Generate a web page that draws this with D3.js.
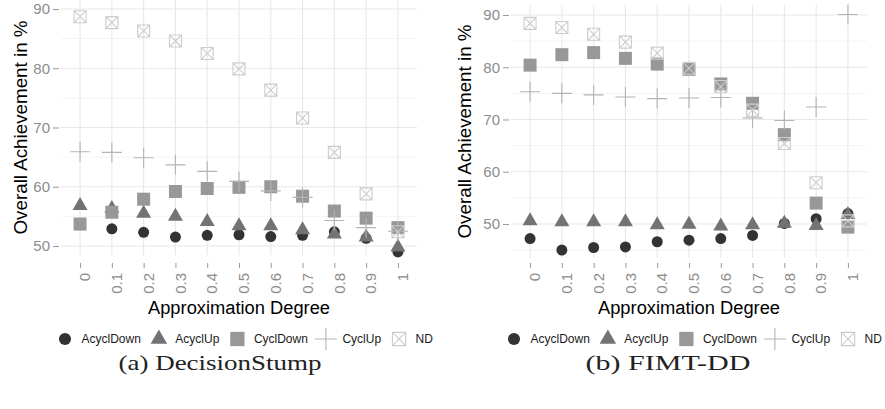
<!doctype html>
<html>
  <head>
    <script src="https://cdnjs.cloudflare.com/ajax/libs/d3/7.8.5/d3.min.js"></script>
  <style>
    body { margin: 0; background: #fff; }
    text { font-family: "Liberation Sans", Arial, sans-serif; }
    .domain { display: none; }
  </style>
  </head>
  <body>
    <svg id="chart" width="885" height="409"></svg>
    <script>
      // approximation degrees on the x axis
      const degrees = ["0", "0.1", "0.2", "0.3", "0.4", "0.5", "0.6", "0.7", "0.8", "0.9", "1"];
      const seriesNames = ["AcyclDown", "AcyclUp", "CyclDown", "CyclUp", "ND"];
      const yTicks = [50, 60, 70, 80, 90];

      // (a) DecisionStump
      const stumpAcyclDown = [53.6, 52.9, 52.3, 51.5, 51.8, 51.9, 51.6, 51.8, 52.4, 51.3, 49.0];
      const stumpAcyclUp   = [56.8, 56.3, 55.5, 55.0, 54.1, 53.4, 53.4, 52.7, 52.0, 51.5, 49.8];
      const stumpCyclDown  = [53.7, 55.7, 57.9, 59.2, 59.7, 59.9, 60.0, 58.4, 55.9, 54.7, 53.1];
      const stumpCyclUp    = [65.9, 65.8, 64.9, 63.7, 62.6, 60.9, 59.3, 58.2, 54.3, 53.1, 52.5];
      const stumpND        = [88.7, 87.7, 86.3, 84.6, 82.5, 79.9, 76.3, 71.6, 65.8, 58.8, 52.4];

      // (b) FIMT-DD
      const fimtAcyclDown = [47.2, 45.0, 45.5, 45.6, 46.6, 46.9, 47.2, 47.8, 50.1, 51.0, 52.0];
      const fimtAcyclUp   = [50.6, 50.4, 50.4, 50.4, 49.8, 49.9, 49.6, 49.8, 50.1, 49.7, 51.8];
      const fimtCyclDown  = [80.4, 82.4, 82.8, 81.7, 80.6, 79.6, 76.8, 73.1, 67.1, 54.0, 49.4];
      const fimtCyclUp    = [75.3, 75.0, 74.7, 74.3, 74.0, 74.1, 74.2, 70.3, 69.8, 72.4, 90.1];
      const fimtND        = [88.4, 87.6, 86.3, 84.8, 82.7, 79.8, 76.3, 71.8, 65.4, 57.9, 50.6];

      const colors = ["#333333", "#737373", "#989898", "#b4b4b4", "#cccccc"];

      // shape paths, centred on 0,0
      function shapePath(i, s) {
        if (i == 0) return d3.symbol(d3.symbolCircle, Math.PI * 5.5 * 5.5 * s * s)();
        if (i == 1) {
          const w = 7.5 * s, h = 13 * s;
          return `M0,${-h * 2 / 3}L${w},${h / 3}L${-w},${h / 3}Z`;
        }
        if (i == 2) return d3.symbol(d3.symbolSquare, 13 * 13 * s * s)();
        if (i == 3) {
          const a = 10 * s;
          return `M${-a},0H${a}M0,${-a}V${a}`;
        }
        const b = 6 * s;
        return `M${-b},${-b}H${b}V${b}H${-b}ZM${-b},${-b}L${b},${b}M${b},${-b}L${-b},${b}`;
      }

      function styleShape(sel, i) {
        if (i < 3) sel.attr("fill", colors[i]).attr("stroke", "none");
        else sel.attr("fill", "none").attr("stroke", colors[i]).attr("stroke-width", 1.1);
      }

      const panels = [
        { caption: "(a) DecisionStump", x0: 61, x1: 417, top: 0, bottom: 255, ydom: [48.48, 91.52],
          minor: [55, 65, 75, 85], series: [stumpAcyclDown, stumpAcyclUp, stumpCyclDown, stumpCyclUp, stumpND],
          yTitleX: 21, legendX: 65, captionX: 220 },
        { caption: "(b) FIMT-DD", x0: 511, x1: 867, top: 5, bottom: 258, ydom: [43.49, 91.91],
          minor: [45, 55, 65, 75, 85], series: [fimtAcyclDown, fimtAcyclUp, fimtCyclDown, fimtCyclUp, fimtND],
          yTitleX: 465, legendX: 514, captionX: 668 }
      ];

      const svg = d3.select("#chart");

      panels.forEach(p => {
        const g = svg.append("g");
        const x = d3.scalePoint().domain(degrees).range([p.x0, p.x1]).padding(0.6);
        const y = d3.scaleLinear().domain(p.ydom).range([p.bottom, p.top]);

        // grid
        g.selectAll("line.minor").data(p.minor).enter().append("line")
          .attr("x1", p.x0).attr("x2", p.x1)
          .attr("y1", d => y(d)).attr("y2", d => y(d))
          .attr("stroke", "#f3f3f3").attr("stroke-width", 0.9);
        g.selectAll("line.hmajor").data(yTicks).enter().append("line")
          .attr("x1", p.x0).attr("x2", p.x1)
          .attr("y1", d => y(d)).attr("y2", d => y(d))
          .attr("stroke", "#e8e8e8").attr("stroke-width", 1.1);
        g.selectAll("line.vmajor").data(degrees).enter().append("line")
          .attr("x1", d => x(d)).attr("x2", d => x(d))
          .attr("y1", p.top).attr("y2", p.bottom)
          .attr("stroke", "#e8e8e8").attr("stroke-width", 1.1);

        // axes
        const yAxis = d3.axisLeft(y).tickValues(yTicks).tickSize(6).tickPadding(3);
        const yg = g.append("g").attr("transform", `translate(${p.x0 - 2},0)`).call(yAxis);
        yg.selectAll("line").attr("stroke", "#999");
        yg.selectAll("text").attr("fill", "#8c8c8c").style("font-size", "15px");

        const xAxis = d3.axisBottom(x).tickSize(5);
        const xg = g.append("g").attr("transform", "translate(0,263)").call(xAxis);
        xg.selectAll("line").attr("stroke", "#999");
        xg.selectAll("text")
          .attr("fill", "#8c8c8c").style("font-size", "15px")
          .attr("text-anchor", "end")
          .attr("transform", "rotate(-90)")
          .attr("x", -10).attr("y", 4.5).attr("dy", "0.35em");

        // points
        p.series.forEach((vals, i) => {
          g.selectAll("path.s" + i).data(vals).enter().append("path")
            .attr("class", "s" + i)
            .attr("d", shapePath(i, 1))
            .attr("transform", (d, j) => `translate(${x(degrees[j])},${y(d)})`)
            .call(styleShape, i);
        });

        // titles
        g.append("text").attr("x", (p.x0 + p.x1) / 2).attr("y", 314)
          .attr("text-anchor", "middle").style("font-size", "18px")
          .attr("textLength", 182).attr("lengthAdjust", "spacingAndGlyphs")
          .text("Approximation Degree");
        g.append("text")
          .attr("transform", `translate(${p.yTitleX + 6},${(p.top + p.bottom) / 2}) rotate(-90)`)
          .attr("text-anchor", "middle").style("font-size", "18px")
          .attr("textLength", 214).attr("lengthAdjust", "spacingAndGlyphs")
          .text("Overall Achievement in %");

        // legend
        let lx = p.legendX;
        seriesNames.forEach((name, i) => {
          g.append("path").attr("d", shapePath(i, i == 3 ? 1.1 : 1.1))
            .attr("transform", `translate(${lx},339)`).call(styleShape, i);
          const t = g.append("text").attr("x", lx + 16.5).attr("y", 339).attr("dy", "0.35em")
            .style("font-size", "12px").attr("fill", "#1a1a1a").text(name);
          lx += 16.5 + t.node().getComputedTextLength() + 18;
        });

        // caption
        g.append("text").attr("x", p.captionX).attr("y", 370)
          .attr("text-anchor", "middle")
          .style("font-family", "'Liberation Serif', 'DejaVu Serif', serif").style("font-size", "21px")
          .attr("textLength", p.caption.length > 12 ? 203 : 165).attr("lengthAdjust", "spacingAndGlyphs")
          .attr("fill", "#222")
          .text(p.caption);
      });
    </script>
  </body>
</html>
